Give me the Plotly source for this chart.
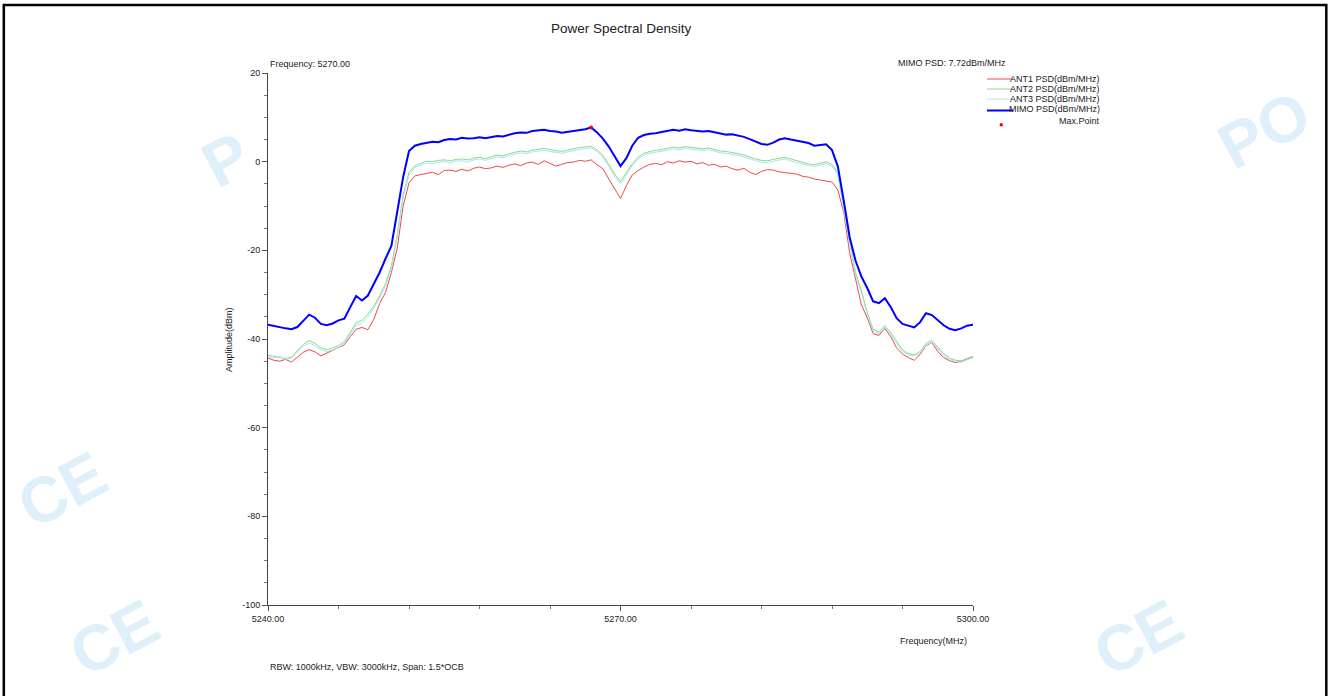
import plotly.graph_objects as go

# =======================
# Data (0.5 MHz steps, 5240..5300 MHz)
# =======================
freq_start = 5240.0
freq_step = 0.5

ant1_psd = [
    -44.3, -44.8, -45.0, -44.6, -45.2, -44.0, -43.0, -42.4, -42.9, -43.8,
    -43.2, -42.6, -42.0, -41.3, -39.5, -37.8, -37.4, -37.9, -35.6, -32.0,
    -29.5, -25.0, -19.5, -10.0, -4.8, -3.2, -2.9, -2.6, -2.4, -2.9,
    -2.0, -1.9, -2.2, -1.7, -2.1, -1.5, -1.2, -1.6, -1.4, -1.0,
    -1.3, -0.8, -0.5, -0.9, -0.3, -0.1, -0.6, 0.2, -0.4, -1.0,
    -0.6, -0.2, -0.1, 0.3, 0.1, 0.4, -0.7, -1.6, -3.9, -6.0,
    -8.3, -5.4, -3.0, -2.0, -1.2, -0.6, -0.4, -0.7, 0.0, -0.3,
    0.2, -0.1, 0.1, -0.5, -0.2, -0.8, -0.6, -1.2, -1.0, -1.6,
    -1.9, -1.5, -2.4, -2.9, -2.2, -1.8, -1.9, -2.3, -2.5, -2.6,
    -2.8, -3.3, -3.5, -3.9, -4.1, -4.4, -4.6, -6.4, -11.5, -20.5,
    -26.5, -32.3, -35.2, -38.8, -39.2, -37.6, -39.5, -42.0, -43.4, -44.2,
    -44.8, -43.5, -41.5, -40.8, -42.8, -44.2, -44.9, -45.3, -45.1, -44.5,
    -44.1,
]

ant2_psd = [
    -43.6, -43.9, -44.2, -44.4, -44.1, -42.6, -41.2, -40.3, -41.0, -42.0,
    -42.4, -42.0, -41.5, -40.6, -38.3, -36.3, -35.8, -34.4, -32.6, -30.3,
    -27.5, -23.5, -16.5, -7.5, -2.4, -0.9, -0.4, 0.1, 0.0, 0.3,
    0.4, 0.2, 0.5, 0.6, 0.4, 0.8, 1.0, 0.7, 1.1, 1.5,
    1.3, 1.8, 2.1, 2.4, 2.2, 2.6, 2.8, 3.0, 2.7, 2.5,
    2.3, 2.6, 2.9, 3.2, 3.3, 3.5, 2.7, 1.4, -0.6, -2.8,
    -4.5, -2.6, -0.5, 1.0, 1.9, 2.3, 2.5, 2.8, 3.0, 3.3,
    3.1, 3.4, 3.2, 3.0, 2.9, 3.1, 2.7, 2.4, 2.3, 2.1,
    1.8, 1.5, 1.0, 0.6, 0.3, 0.2, 0.5, 0.8, 1.0, 0.6,
    0.2, -0.2, -0.5, -0.7, -0.4, 0.0, -0.6, -2.5, -10.5, -18.0,
    -25.0, -29.0, -34.0, -37.8, -38.5, -37.0, -38.6, -40.5, -42.5, -43.3,
    -43.6, -42.8, -41.0, -40.3, -41.8, -43.3, -44.3, -44.8, -44.9, -44.4,
    -43.9,
]

ant3_psd = [
    -44.0, -44.3, -44.0, -44.6, -44.3, -43.0, -41.6, -40.9, -41.5, -42.4,
    -42.8, -42.5, -41.9, -41.0, -38.8, -36.9, -36.4, -35.0, -33.1, -30.8,
    -28.0, -24.2, -17.2, -8.2, -3.0, -1.3, -0.8, -0.3, -0.5, -0.1,
    0.0, -0.3, 0.1, 0.2, -0.1, 0.4, 0.6, 0.3, 0.7, 1.1,
    0.9, 1.4, 1.7, 2.0, 1.8, 2.2, 2.4, 2.6, 2.3, 2.1,
    1.9, 2.2, 2.5, 2.8, 2.9, 3.1, 2.3, 1.0, -1.0, -3.3,
    -5.0, -3.0, -0.9, 0.6, 1.5, 1.9, 2.1, 2.4, 2.6, 2.9,
    2.7, 3.0, 2.8, 2.6, 2.5, 2.7, 2.3, 2.0, 1.9, 1.7,
    1.4, 1.1, 0.6, 0.2, -0.1, -0.2, 0.1, 0.4, 0.6, 0.2,
    -0.2, -0.6, -0.9, -1.1, -0.8, -0.4, -1.0, -3.0, -11.0, -18.6,
    -25.5, -29.6, -34.5, -38.2, -38.9, -37.4, -39.0, -41.0, -42.8, -43.6,
    -43.9, -43.2, -41.4, -40.7, -42.2, -43.7, -44.6, -45.1, -45.2, -44.7,
    -44.2,
]

mimo_psd = [
    -36.8, -37.1, -37.4, -37.6, -37.8, -37.3, -35.9, -34.5, -35.2, -36.6,
    -36.9, -36.5, -35.8, -35.4, -32.8, -30.3, -31.3, -30.2, -27.6, -25.0,
    -21.9, -19.0, -11.3, -3.5, 2.4, 3.6, 4.0, 4.3, 4.5, 4.4,
    4.9, 5.1, 5.0, 5.4, 5.2, 5.3, 5.5, 5.3, 5.6, 5.8,
    5.7, 6.1, 6.4, 6.6, 6.5, 6.9, 7.0, 7.2, 6.9, 6.8,
    6.5, 6.7, 7.0, 7.2, 7.3, 7.72, 6.6, 5.2, 3.4, 1.2,
    -1.0, 0.8, 3.6, 5.4, 6.0, 6.3, 6.4, 6.7, 6.9, 7.2,
    7.0, 7.3, 7.1, 7.0, 6.8, 6.9, 6.6, 6.3, 6.1, 6.2,
    5.9, 5.6, 5.1, 4.6, 4.0, 3.8, 4.3, 5.0, 5.3, 5.0,
    4.7, 4.4, 4.2, 3.6, 3.7, 3.9, 2.6, -1.1, -8.8, -17.0,
    -22.3, -25.9, -28.5, -31.5, -31.9, -30.8, -32.8, -35.3, -36.6, -37.0,
    -37.4, -36.2, -34.2, -34.6, -35.8, -36.9, -37.7, -38.0, -37.6, -37.0,
    -36.8,
]

freq_mhz = [freq_start + i * freq_step for i in range(len(mimo_psd))]

x_tick_vals = [5240, 5270, 5300]
x_tick_text = ["5240.00", "5270.00", "5300.00"]
y_tick_vals = [-100, -80, -60, -40, -20, 0, 20]
y_tick_text = ["-100", "-80", "-60", "-40", "-20", "0", "20"]

series_names = [
    "ANT1 PSD(dBm/MHz)",
    "ANT2 PSD(dBm/MHz)",
    "ANT3 PSD(dBm/MHz)",
    "MIMO PSD(dBm/MHz)",
]
series_colors = ["#f04848", "#86dc86", "#a8e4ee", "#0000ff"]
series_widths = [1, 1, 1, 2]

# watermark pieces seen around the chart
watermark_text = ["P", "CE", "CE", "PO", "CE"]

# max point of the MIMO trace
max_idx = max(range(len(mimo_psd)), key=lambda i: mimo_psd[i])
max_freq = freq_mhz[max_idx]
max_val = mimo_psd[max_idx]

FONT = "Liberation Sans, Arial, sans-serif"
SMALL = 9

# plot area in pixels (for placing the texts around it)
L, R, T, B = 268, 973, 73, 605


def px(x):
    return (x - L) / (R - L)


def py(y):
    return (B - y) / (B - T)


fig = go.Figure()

for name, vals, color, width in zip(
    series_names, [ant1_psd, ant2_psd, ant3_psd, mimo_psd], series_colors, series_widths
):
    fig.add_trace(
        go.Scatter(
            x=freq_mhz,
            y=vals,
            mode="lines",
            name=name,
            line=dict(color=color, width=width),
        )
    )

fig.add_trace(
    go.Scatter(
        x=[max_freq],
        y=[max_val],
        mode="markers",
        name="Max.Point",
        marker=dict(color="#ff0000", size=4),
    )
)

annotations = []


def add_text(text, x, y, size=SMALL, xanchor="center", yanchor="middle", angle=0, color="#222"):
    annotations.append(
        dict(
            text=text,
            x=px(x),
            y=py(y),
            xref="paper",
            yref="paper",
            showarrow=False,
            xanchor=xanchor,
            yanchor=yanchor,
            textangle=angle,
            font=dict(family=FONT, size=size, color=color),
        )
    )


# watermark (light blue, outside the chart body)
wm_pos = [(226, 160), (62, 490), (114, 638), (1264, 130), (1138, 638)]
for txt, (wx, wy) in zip(watermark_text, wm_pos):
    annotations.append(
        dict(
            text="<b>%s</b>" % txt,
            x=px(wx),
            y=py(wy),
            xref="paper",
            yref="paper",
            showarrow=False,
            xanchor="center",
            yanchor="middle",
            textangle=-28,
            font=dict(family=FONT, size=64, color="#dff0fa"),
        )
    )

add_text("Power Spectral Density", 621, 28, size=13.5)
add_text("Frequency: 5270.00", 268, 64, xanchor="left")
add_text("MIMO PSD: %.2fdBm/MHz" % max_val, 1008, 63, xanchor="right")
add_text("Amplitude(dBm)", 229, 340, angle=-90)
add_text("Frequency(MHz)", 969, 641, xanchor="right")
add_text("RBW: 1000kHz, VBW: 3000kHz, Span: 1.5*OCB", 268, 667, xanchor="left")

# hand-made legend: right aligned text with the sample line to its left
shapes = []
legend_rows = [79, 89, 99, 109]
for name, color, width, ly in zip(series_names, series_colors, series_widths, legend_rows):
    add_text(name, 1102, ly, xanchor="right")
    line_y = ly + (1.5 if width > 1 else 0)
    shapes.append(
        dict(type="line", xref="paper", yref="paper",
             x0=px(987), x1=px(1013), y0=py(line_y), y1=py(line_y),
             line=dict(color=color, width=width))
    )
add_text("Max.Point", 1102, 121, xanchor="right")
shapes.append(
    dict(type="circle", xref="paper", yref="paper",
         x0=px(999.5), x1=px(1003), y0=py(126.5), y1=py(123),
         fillcolor="#ff0000", line=dict(color="#ff0000", width=0))
)

# page frame
shapes.append(
    dict(type="rect", xref="paper", yref="paper",
         x0=px(3.8), x1=px(1326.3), y0=py(720), y1=py(5),
         line=dict(color="black", width=2.5), fillcolor="rgba(0,0,0,0)")
)

fig.update_layout(
    width=1334,
    height=696,
    margin=dict(l=L, r=1334 - R, t=T, b=696 - B),
    paper_bgcolor="white",
    plot_bgcolor="white",
    showlegend=False,
    font=dict(family=FONT, size=SMALL, color="#222"),
    annotations=annotations,
    shapes=shapes,
)

fig.update_xaxes(
    range=[5240, 5300],
    tickvals=x_tick_vals,
    ticktext=x_tick_text,
    ticks="outside",
    ticklen=5,
    tickcolor="#555",
    tickfont=dict(family=FONT, size=SMALL, color="#222"),
    showline=True,
    linecolor="#444",
    linewidth=1,
    showgrid=False,
    zeroline=False,
    minor=dict(tick0=5240, dtick=6, ticks="outside", ticklen=3, tickcolor="#777", showgrid=False),
)

fig.update_yaxes(
    range=[-100, 20],
    tickvals=y_tick_vals,
    ticktext=y_tick_text,
    ticks="outside",
    ticklen=5,
    tickcolor="#555",
    tickfont=dict(family=FONT, size=SMALL, color="#222"),
    showline=True,
    linecolor="#444",
    linewidth=1,
    showgrid=False,
    zeroline=False,
    minor=dict(tick0=-100, dtick=5, ticks="outside", ticklen=3, tickcolor="#777", showgrid=False),
)

fig.write_html(
    "out.html",
    config={"displaylogo": False, "displayModeBar": False},
    post_script="document.body.style.margin='0';",
)
